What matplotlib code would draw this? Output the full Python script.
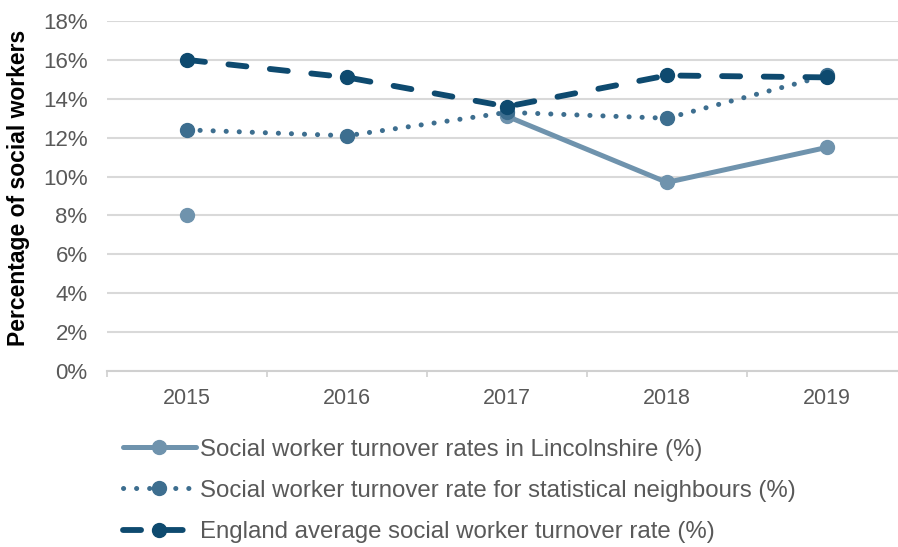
import matplotlib
matplotlib.use("Agg")
import matplotlib.pyplot as plt
import numpy as np
from matplotlib.ticker import FuncFormatter, FixedLocator

years = ["2015", "2016", "2017", "2018", "2019"]
lincolnshire = [8.0, np.nan, 13.1, 9.7, 11.5]
neighbours = [12.4, 12.1, 13.3, 13.0, 15.2]
england = [16.0, 15.1, 13.6, 15.2, 15.1]

labels = [
    "Social worker turnover rates in Lincolnshire (%)",
    "Social worker turnover rate for statistical neighbours (%)",
    "England average social worker turnover rate (%)",
]
c_lin = "#6F93AD"
c_nei = "#3D6E8F"
c_eng = "#0E4A6F"

plt.rcParams["font.family"] = ["Liberation Sans", "DejaVu Sans"]
plt.rcParams["lines.scale_dashes"] = False

fig = plt.figure(figsize=(8.98, 5.47), dpi=100)
ax = fig.add_axes([107/898, 176/547, 800/898, 350/547])

x = np.arange(len(years))
l1, = ax.plot(x, lincolnshire, color=c_lin, lw=3.6, marker="o", ms=10,
              solid_capstyle="round", label=labels[0], zorder=3)
l2, = ax.plot(x, neighbours, color=c_nei, lw=3.6, marker="o", ms=10,
              dashes=(0.1, 9.3), dash_capstyle="round", label=labels[1], zorder=4)
l3, = ax.plot(x, england, color=c_eng, lw=4.2, marker="o", ms=10,
              dashes=(13, 17), dash_capstyle="round", label=labels[2], zorder=5)

ax.set_xlim(-0.5, 4.5)
ax.set_ylim(0, 18)
ax.set_yticks(np.arange(0, 19, 2))
ax.yaxis.set_major_formatter(FuncFormatter(lambda v, p: f"{v:.0f}%"))
ax.set_xticks(x)
ax.set_xticklabels(years)
ax.xaxis.set_minor_locator(FixedLocator(np.arange(-0.5, 5, 1.0)))
ax.tick_params(axis="x", which="major", length=0, pad=12, labelsize=15.5, labelcolor="#595959")
ax.tick_params(axis="x", which="minor", length=4, width=1.2, color="#D0D0D0", direction="out")
ax.tick_params(axis="y", length=0, pad=14, labelsize=16, labelcolor="#595959")
ax.grid(axis="y", color="#D9D9D9", lw=1.5, zorder=0)
ax.set_axisbelow(True)
for s in ["top", "right", "left"]:
    ax.spines[s].set_visible(False)
ax.spines["bottom"].set_color("#D0D0D0")
ax.spines["bottom"].set_linewidth(1.5)

fig.text(19/898, (547-188)/547, "Percentage of social workers", rotation=90,
         ha="center", va="center", fontsize=16.5, fontweight="bold", color="black")

leg = fig.legend(handles=[l1, l2, l3], loc="upper left",
                 bbox_to_anchor=(113/898, 1 - 429/547), frameon=False,
                 fontsize=17.3, labelcolor="#595959", handlelength=3.05,
                 handletextpad=0.15, labelspacing=0.8, borderaxespad=0)

fig.savefig("out.png", dpi=100)
